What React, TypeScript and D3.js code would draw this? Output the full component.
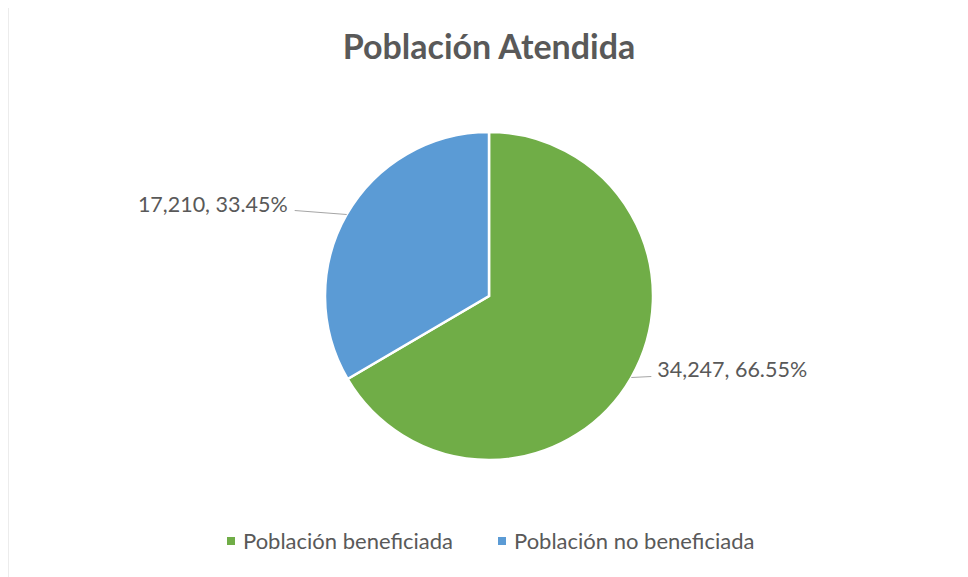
import { useEffect, useRef } from "react";
import * as d3 from "d3";

const categories = ["Población beneficiada", "Población no beneficiada"];
const values = [34247, 17210];
const colors = ["#70ad47", "#5b9bd5"];
const title = "Población Atendida";

export default function App() {
  const ref = useRef<SVGSVGElement>(null);

  useEffect(() => {
    const svg = d3.select(ref.current);
    svg.selectAll("*").remove();

    const width = 968;
    const height = 577;
    const cx = 481;
    const cy = 288;
    const r = 164;
    const font = "Lato, 'Open Sans', sans-serif";
    const textColor = "#595959";

    svg
      .append("rect")
      .attr("x", 0)
      .attr("y", -4)
      .attr("width", width - 9.5)
      .attr("height", height + 10)
      .attr("fill", "#fff")
      .attr("stroke", "#d9d9d9")
      .attr("stroke-width", 1);

    svg
      .append("text")
      .attr("x", cx)
      .attr("y", 51)
      .attr("text-anchor", "middle")
      .attr("fill", textColor)
      .style("font-family", font)
      .style("font-weight", "bold")
      .style("font-size", "34px")
      .text(title);

    const total = d3.sum(values);
    const pie = d3
      .pie<number>()
      .sort(null)
      .value((d) => d);
    const arcs = pie(values);
    const arc = d3.arc<d3.PieArcDatum<number>>().innerRadius(0).outerRadius(r);

    const g = svg.append("g").attr("transform", `translate(${cx},${cy})`);

    g.selectAll("path")
      .data(arcs)
      .join("path")
      .attr("d", arc)
      .attr("fill", (_, i) => colors[i])
      .attr("stroke", "#fff")
      .attr("stroke-width", 2.5);

    // --- Labels with leader lines ---
    const fmt = d3.format(",");
    arcs.forEach((a, i) => {
      const mid = (a.startAngle + a.endAngle) / 2;
      const ex = r * Math.sin(mid);
      const ey = -r * Math.cos(mid);
      const right = ex > 0;
      const lx = right ? ex + 20 : ex - 52;
      const ly = ey + (right ? -1 : -4);
      g.append("polyline")
        .attr("points", `${ex},${ey} ${lx},${ly}`)
        .attr("fill", "none")
        .attr("stroke", "#a6a6a6")
        .attr("stroke-width", 1.2);
      const pct = ((values[i] / total) * 100).toFixed(2);
      g.append("text")
        .attr("x", right ? lx + 6 : lx - 7)
        .attr("y", ly + (right ? 1 : 1.5))
        .attr("text-anchor", right ? "start" : "end")
        .attr("fill", textColor)
        .style("font-family", font)
        .style("font-size", "21.5px")
        .text(`${fmt(values[i])}, ${pct}%`);
    });

    // --- Legend ---
    const legend = svg.append("g").attr("transform", "translate(0,526)");
    const legendX = [219, 490];
    categories.forEach((c, i) => {
      legend
        .append("rect")
        .attr("x", legendX[i])
        .attr("y", 3)
        .attr("width", 8)
        .attr("height", 8)
        .attr("fill", colors[i]);
      legend
        .append("text")
        .attr("x", legendX[i] + 16)
        .attr("y", 15)
        .attr("fill", textColor)
        .style("font-family", font)
        .style("font-size", "22px")
        .text(c);
    });
  }, []);

  return <svg ref={ref} width={960} height={569} style={{ display: "block" }}></svg>;
}
